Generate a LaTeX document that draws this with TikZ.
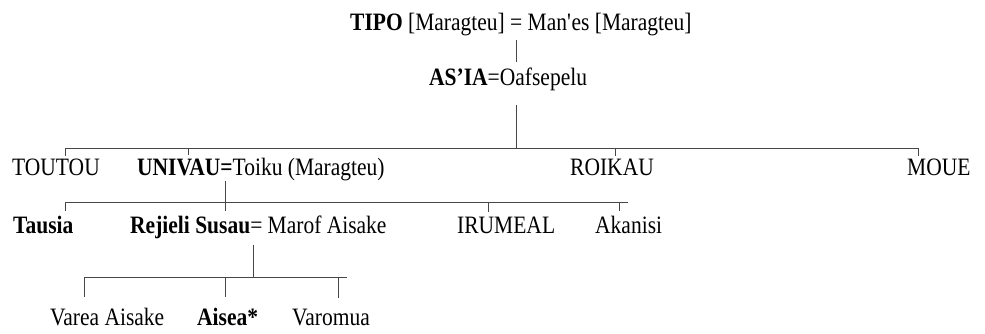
\documentclass[tikz,border=0pt]{standalone}
\usepackage{fontspec}
\setmainfont{Liberation Serif}[FakeStretch=0.86]
\usetikzlibrary{calc}
\begin{document}
\begin{tikzpicture}[x=1pt,y=-1pt,
  lbl/.style={inner xsep=0pt, inner ysep=2pt, anchor=base west, font=\fontsize{25}{30}\selectfont},
  link/.style={draw=black!72, line width=1pt}]
\useasboundingbox (0,0) rectangle (985,333);
% generation 1 and 2
\node[lbl] (tipo) at (350,30) {\textbf{TIPO} [Maragteu] = Man\textquotesingle es [Maragteu]};
\node[lbl] (asia) at (429,85) {\textbf{AS’IA}=Oafsepelu};
% generation 3
\node[lbl] (toutou) at (12,175) {TOUTOU};
\node[lbl] (univau) at (137,175) {\textbf{UNIVAU=}Toiku (Maragteu)};
\node[lbl] (roikau) at (570,175) {ROIKAU};
\node[lbl] (moue) at (907,175) {MOUE};
% generation 4
\node[lbl] (tausia) at (13,233) {\textbf{Tausia}};
\node[lbl] (rejieli) at (130,233) {\textbf{Rejieli Susau}= Marof Aisake};
\node[lbl] (irumeal) at (457,233) {IRUMEAL};
\node[lbl] (akanisi) at (595,233) {Akanisi};
% generation 5
\node[lbl] (varea) at (50,325) {Varea Aisake};
\node[lbl] (aisea) at (197,325) {\textbf{Aisea*}};
\node[lbl] (varomua) at (292,325) {Varomua};
% bar coordinates
\coordinate (b1L) at (65,148);
\coordinate (b1J) at (516,148);
\coordinate (b1U) at (188,148);
\coordinate (b1K) at (615,148);
\coordinate (b1R) at (918,148);
\coordinate (b2L) at (65,202);
\coordinate (b2J) at (225,202);
\coordinate (b2I) at (488,202);
\coordinate (b2A) at (619,202);
\coordinate (b2R) at (628,202);
\coordinate (b3L) at (84,277);
\coordinate (b3J) at (253,277);
\coordinate (b3A) at (225,277);
\coordinate (b3V) at (338,277);
\coordinate (b3R) at (347,277);
% connectors
\draw[link] ($(tipo.south -| b1J)+(0,2)$) -- ($(asia.north -| b1J)+(0,-3)$);
\draw[link] ($(asia.south -| b1J)+(0,12)$) -- (b1J);
\draw[link] (b1L) -- (b1R);
\draw[link] (b1L) -- (toutou.north -| b1L);
\draw[link] (b1U) -- (univau.north -| b1U);
\draw[link] (b1K) -- (roikau.north -| b1K);
\draw[link] (b1R) -- (moue.north -| b1R);
\draw[link] ($(univau.south -| b2J)+(0,-2)$) -- (b2J);
\draw[link] (b2L) -- (b2R);
\draw[link] (b2L) -- ($(tausia.north -| b2L)+(0,-2)$);
\draw[link] (b2J) -- ($(rejieli.north -| b2J)+(0,-2)$);
\draw[link] (b2I) -- ($(irumeal.north -| b2I)+(0,-2)$);
\draw[link] (b2A) -- ($(akanisi.north -| b2A)+(0,-2)$);
\draw[link] ($(rejieli.south -| b3J)+(0,4)$) -- (b3J);
\draw[link] (b3L) -- (b3R);
\draw[link] (b3L) -- ($(varea.north -| b3L)+(0,-8)$);
\draw[link] (b3A) -- ($(aisea.north -| b3A)+(0,-8)$);
\draw[link] (b3V) -- ($(varomua.north -| b3V)+(0,-8)$);
\end{tikzpicture}
\end{document}
